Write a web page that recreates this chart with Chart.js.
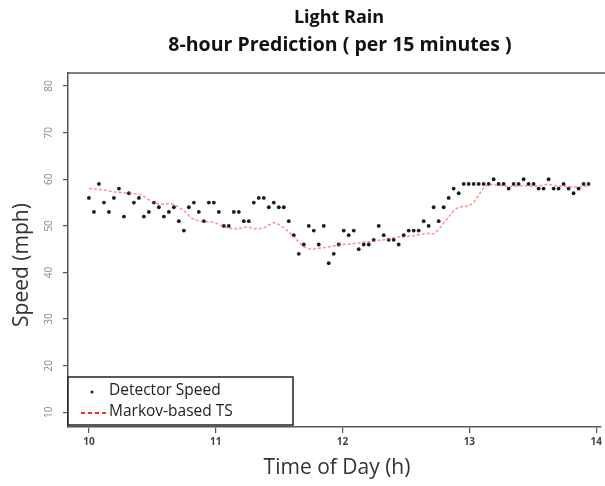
<!DOCTYPE html>
<html>
<head>
<meta charset="utf-8">
<script src="https://cdn.jsdelivr.net/npm/chart.js@4"></script>
<style>
  body { margin: 0; background: #fff; }
  #wrap { width: 605px; height: 486px; }
</style>
</head>
<body>
<div id="wrap"><canvas id="chart" width="605" height="486"></canvas></div>
<script>
// ===== DATA =====
const titleLines = ['Light Rain', '8-hour Prediction ( per 15 minutes )'];
const xTicks = [10, 11, 12, 13, 14];
const yTicks = [10, 20, 30, 40, 50, 60, 70, 80];
const startHour = 10;
const stepHours = 0.0394; // spacing between readings on the time axis

// Detector Speed (mph), one per reading
const detectorSpeed = [
  56, 53, 59, 55, 53, 56, 58, 52, 57, 55,
  56, 52, 53, 55, 54, 52, 53, 54, 51, 49,
  54, 55, 53, 51, 55, 55, 53, 50, 50, 53,
  53, 51, 51, 55, 56, 56, 54, 55, 54, 54,
  51, 48, 44, 46, 50, 49, 46, 50, 42, 44,
  46, 49, 48, 49, 45, 46, 46, 47, 50, 48,
  47, 47, 46, 48, 49, 49, 49, 51, 50, 54,
  51, 54, 56, 58, 57, 59, 59, 59, 59, 59,
  59, 60, 59, 59, 58, 59, 59, 60, 59, 59,
  58, 58, 60, 58, 58, 59, 58, 57, 58, 59, 59
];

// Markov-based TS prediction (mph)
const markovTS = [
  58.0, 57.9, 57.8, 57.7, 57.5, 57.3, 57.2, 57.1, 57.0, 56.9,
  56.8, 56.3, 55.6, 55.0, 54.6, 54.7, 54.8, 54.6, 54.0, 53.3,
  52.2, 51.4, 51.1, 50.9, 50.9, 50.8, 50.3, 49.8, 49.5, 49.3,
  49.4, 49.7, 49.7, 49.4, 49.4, 49.6, 50.2, 50.7, 50.3, 49.6,
  48.7, 47.7, 46.5, 45.5, 45.1, 45.0, 45.2, 45.3, 45.5, 45.7,
  45.9, 46.0, 46.1, 46.2, 46.3, 46.5, 46.6, 46.7, 46.9, 47.0,
  47.2, 47.5, 47.6, 47.6, 47.8, 47.9, 48.1, 48.3, 48.4, 48.3,
  49.2, 50.6, 51.9, 53.3, 54.0, 54.2, 54.3, 55.0, 56.6, 58.2,
  59.0, 58.8, 58.7, 58.6, 58.5, 58.5, 58.6, 58.6, 58.6, 58.5,
  58.5, 58.8, 58.9, 58.7, 58.5, 58.5, 58.4, 58.3, 58.4, 58.5, 58.5
];

const times = detectorSpeed.map((_, i) => startHour + i * stepHours);
const toPoints = vals => vals.map((v, i) => ({ x: times[i], y: v }));

// ===== DECORATION (R style titles, rotated y labels, boxed legend) =====
const decor = {
  id: 'decor',
  afterDraw(chart) {
    const { ctx, chartArea: a, scales: { y } } = chart;
    ctx.save();

    // top edge of plot box
    ctx.strokeStyle = '#555';
    ctx.lineWidth = 1.5;
    ctx.beginPath();
    ctx.moveTo(a.left, a.top);
    ctx.lineTo(605, a.top);
    ctx.stroke();

    // main title
    ctx.fillStyle = '#111';
    ctx.textAlign = 'center';
    ctx.textBaseline = 'middle';
    ctx.font = 'bold 18px "Open Sans", sans-serif';
    ctx.fillText(titleLines[0], 339, 18);
    ctx.font = 'bold 19.5px "Open Sans", sans-serif';
    ctx.fillText(titleLines[1], 340, 45);

    // axis titles
    ctx.fillStyle = '#333';
    ctx.font = '21px "Open Sans", sans-serif';
    ctx.fillText('Time of Day (h)', 337, 468);
    ctx.save();
    ctx.translate(22, 265);
    ctx.rotate(-Math.PI / 2);
    ctx.fillText('Speed (mph)', 0, 0);
    ctx.restore();

    // y tick labels, rotated like R
    ctx.fillStyle = '#888';
    ctx.font = '10px "Open Sans", sans-serif';
    yTicks.forEach(v => {
      ctx.save();
      ctx.translate(49, y.getPixelForValue(v));
      ctx.rotate(-Math.PI / 2);
      ctx.fillText(String(v), 0, 0);
      ctx.restore();
    });

    // legend box
    const lx = a.left, ly = 377, lw = 225, lh = 48;
    ctx.fillStyle = '#fff';
    ctx.fillRect(lx, ly, lw, lh);
    ctx.strokeStyle = '#222';
    ctx.lineWidth = 1.5;
    ctx.strokeRect(lx, ly, lw, lh);

    ctx.fillStyle = '#222';
    ctx.beginPath();
    ctx.arc(92, 392, 1.5, 0, Math.PI * 2);
    ctx.fill();

    ctx.strokeStyle = '#ff2a2a';
    ctx.lineWidth = 2;
    ctx.setLineDash([4, 3]);
    ctx.beginPath();
    ctx.moveTo(81, 413);
    ctx.lineTo(106, 413);
    ctx.stroke();
    ctx.setLineDash([]);

    ctx.fillStyle = '#222';
    ctx.textAlign = 'left';
    ctx.font = '15.5px "Open Sans", sans-serif';
    ctx.fillText('Detector Speed', 109, 391);
    ctx.fillText('Markov-based TS', 109, 412);

    ctx.restore();
  }
};

// ===== CHART =====
new Chart(document.getElementById('chart'), {
  type: 'scatter',
  data: {
    datasets: [
      {
        label: 'Markov-based TS',
        data: toPoints(markovTS),
        showLine: true,
        borderColor: 'rgba(255, 70, 70, 0.6)',
        borderWidth: 1.5,
        borderDash: [3, 2],
        pointRadius: 0,
        fill: false
      },
      {
        label: 'Detector Speed',
        data: toPoints(detectorSpeed),
        pointRadius: 1.9,
        pointBackgroundColor: '#1a1a1a',
        pointBorderWidth: 0
      }
    ]
  },
  options: {
    responsive: false,
    animation: false,
    layout: { padding: { top: 73, left: 0, right: 0, bottom: 0 } },
    plugins: {
      legend: { display: false },
      title: { display: false },
      tooltip: { enabled: false }
    },
    scales: {
      x: {
        type: 'linear',
        min: 9.835,
        max: 14.038,
        afterBuildTicks: s => { s.ticks = xTicks.map(v => ({ value: v })); },
        afterFit: s => { s.height = 59; s.paddingLeft = 0; s.paddingRight = 0; },
        grid: { drawOnChartArea: false, drawTicks: true, tickLength: 6, color: '#555', lineWidth: 1.2 },
        border: { display: true, color: '#555', width: 1.5 },
        ticks: {
          color: '#444',
          font: { family: 'Open Sans', size: 10, weight: 'bold' },
          padding: 3,
          maxRotation: 0,
          autoSkip: false
        }
      },
      y: {
        type: 'linear',
        min: 6.85,
        max: 82.8,
        afterBuildTicks: s => { s.ticks = yTicks.map(v => ({ value: v })); },
        afterFit: s => { s.width = 68; s.paddingTop = 0; s.paddingBottom = 0; },
        grid: { drawOnChartArea: false, drawTicks: true, tickLength: 5, color: '#555', lineWidth: 1.2 },
        border: { display: true, color: '#555', width: 1.5 },
        ticks: { display: false }
      }
    }
  },
  plugins: [decor]
});
</script>
</body>
</html>
